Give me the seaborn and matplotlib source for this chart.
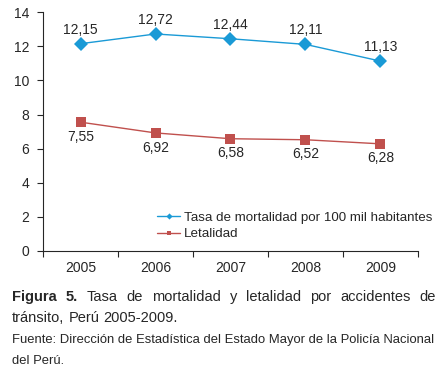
import matplotlib
matplotlib.use('Agg')
import matplotlib.pyplot as plt
import pandas as pd
import seaborn as sns

years = ['2005', '2006', '2007', '2008', '2009']
mortalidad = [12.15, 12.72, 12.44, 12.11, 11.13]
letalidad = [7.55, 6.92, 6.58, 6.52, 6.28]
series_names = ['Tasa de mortalidad por 100 mil habitantes', 'Letalidad']

sns.set_style('ticks')
plt.rcParams['font.family'] = ['Liberation Sans', 'DejaVu Sans']

df = pd.DataFrame({
    'x': list(range(len(years))) * 2,
    'valor': mortalidad + letalidad,
    'serie': [series_names[0]] * len(years) + [series_names[1]] * len(years),
})

fig = plt.figure(figsize=(4.48, 3.68), dpi=100)
ax = fig.add_axes([0.096, 0.318, 0.837, 0.649])

colors = {series_names[0]: '#1a9ad6', series_names[1]: '#c0504d'}
sns.lineplot(data=df, x='x', y='valor', hue='serie', style='serie',
             markers={series_names[0]: 'D', series_names[1]: 's'},
             dashes=False, palette=colors, markersize=7, linewidth=1,
             markeredgewidth=0, ax=ax)

fs = 10
# etiquetas de datos
for i, v in enumerate(mortalidad):
    ax.annotate(f'{v:.2f}'.replace('.', ','), (i, v), xytext=(0, 10),
                textcoords='offset points', ha='center', va='center', fontsize=fs)
for i, v in enumerate(letalidad):
    ax.annotate(f'{v:.2f}'.replace('.', ','), (i, v), xytext=(0, -10.5),
                textcoords='offset points', ha='center', va='center', fontsize=fs)

ax.set_xlim(-0.5, len(years) - 0.5)
ax.set_ylim(0, 14)
ax.set_yticks(range(0, 15, 2))
ax.set_xticks(range(len(years)))
ax.set_xticklabels(years)
ax.set_xticks([i - 0.5 for i in range(len(years) + 1)], minor=True)
ax.tick_params(axis='x', which='major', length=0, pad=7, labelsize=fs)
ax.tick_params(axis='x', which='minor', length=4, width=0.8)
ax.tick_params(axis='y', length=4, width=0.8, labelsize=fs, pad=6)
ax.set_xlabel('')
ax.set_ylabel('')
for s in ['left', 'bottom']:
    ax.spines[s].set_linewidth(0.8)
sns.despine(ax=ax)

leg = ax.legend(loc='lower right', bbox_to_anchor=(1.062, 0.005), frameon=False,
                fontsize=9.6, handlelength=1.75, handletextpad=0.25, labelspacing=0.3,
                borderpad=0.2, markerscale=0.45)

# pie de figura, justificado
x0, x1 = 12 / 448, 436 / 448
renderer = fig.canvas.get_renderer()


def justified(words, y, size, bold_first=0, justify=True):
    arts = []
    for k, w in enumerate(words):
        t = fig.text(x0, y, w, fontsize=size, va='baseline',
                     fontweight='bold' if k < bold_first else 'normal')
        arts.append(t)
    widths = [a.get_window_extent(renderer).width / fig.bbox.width for a in arts]
    if justify and len(arts) > 1:
        gap = (x1 - x0 - sum(widths)) / (len(arts) - 1)
    else:
        gap = fig.text(0, 0, ' ', fontsize=size).get_window_extent(renderer).width / fig.bbox.width
    x = x0
    for a, w in zip(arts, widths):
        a.set_x(x)
        x += w + gap


justified(['Figura', '5.', 'Tasa', 'de', 'mortalidad', 'y', 'letalidad', 'por',
           'accidentes', 'de'], 1 - 301 / 368, 10.5, bold_first=2)
justified(['tránsito,', 'Perú', '2005-2009.'], 1 - 322 / 368, 10.5, justify=False)

# la línea de la fuente ocupa todo el ancho
fuente = fig.text(x0, 1 - 343 / 368,
                  'Fuente: Dirección de Estadística del Estado Mayor de la Policía Nacional',
                  fontsize=9, va='baseline')
w = fuente.get_window_extent(renderer).width
fs_fuente = 9 * (x1 - x0) * fig.bbox.width / w
fuente.set_fontsize(fs_fuente)
fig.text(x0, 1 - 364 / 368, 'del Perú.', fontsize=fs_fuente, va='baseline')

fig.savefig('out.png', dpi=100)
